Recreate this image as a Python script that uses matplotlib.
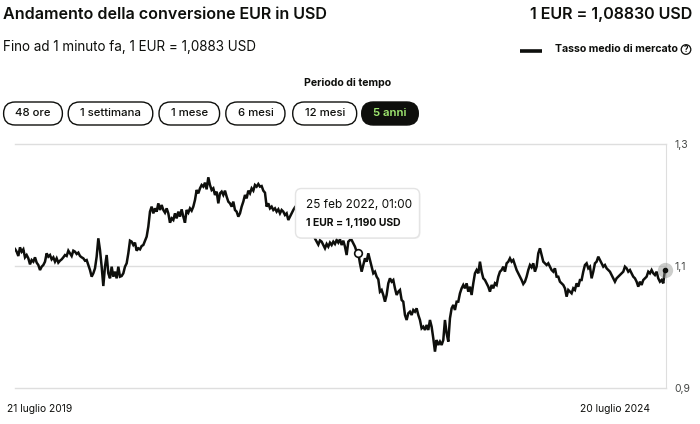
import numpy as np
import pandas as pd
import matplotlib
matplotlib.use("Agg")
import matplotlib.pyplot as plt
from matplotlib.patches import FancyBboxPatch, Circle

plt.rcParams['font.family'] = ['Inter', 'DejaVu Sans']

title = "Andamento della conversione EUR in USD"
current_rate_text = "1 EUR = 1,08830 USD"
subtitle = "Fino ad 1 minuto fa, 1 EUR = 1,0883 USD"
legend_label = "Tasso medio di mercato"
period_title = "Periodo di tempo"
periods = ["48 ore", "1 settimana", "1 mese", "6 mesi", "12 mesi", "5 anni"]
active_period = "5 anni"
start_label = "21 luglio 2019"
end_label = "20 luglio 2024"
y_ticks = [0.9, 1.1, 1.3]
hover_date = "2022-02-25"
hover_value = 1.1190
hover_text = "25 feb 2022, 01:00"

# EUR -> USD (roughly every 5 days)
rates_a = [1.1279, 1.1235, 1.1164, 1.1306, 1.1235, 1.1273, 1.1142, 1.1180, 1.1126, 1.1027,
           1.1098, 1.1071, 1.1142, 1.1055, 1.1016, 1.0934, 1.0989, 1.1016, 1.1071, 1.1208,
           1.1153, 1.1180, 1.1109, 1.1142, 1.1071, 1.1126, 1.1055, 1.1087, 1.1109, 1.1142,
           1.1180, 1.1164, 1.1251, 1.1208, 1.1164, 1.1251, 1.1235, 1.1197, 1.1219, 1.1164,
           1.1142, 1.1126, 1.1087, 1.1098, 1.1016, 1.0934, 1.0825, 1.0880, 1.0962, 1.1153,
           1.1454, 1.1262, 1.0989, 1.0672, 1.0989, 1.1180, 1.0880, 1.0798, 1.0989, 1.0825,
           1.0907, 1.0798, 1.0989, 1.0825, 1.0836, 1.0880]
rates_b = [1.0989, 1.1044, 1.1208, 1.1415, 1.1399, 1.1344, 1.1383, 1.1251, 1.1290, 1.1273,
           1.1328, 1.1344, 1.1415, 1.1481, 1.1645, 1.1891, 1.1973, 1.1863, 1.1945, 1.1891,
           1.2027, 1.1918, 1.2000, 1.1918, 1.1874, 1.1945, 1.1863, 1.1710, 1.1781, 1.1754,
           1.1863, 1.1781, 1.1891, 1.1809, 1.1929, 1.1809, 1.1710, 1.1918, 1.1874, 1.1945,
           1.1907, 1.1973, 1.2082, 1.2246, 1.2191, 1.2273, 1.2328, 1.2301, 1.2366, 1.2257,
           1.2454, 1.2328, 1.2246, 1.2273, 1.2164, 1.2219, 1.2027, 1.2191, 1.2219, 1.2164,
           1.2235, 1.2137, 1.2055, 1.2027, 1.1973, 1.2055, 1.1918, 1.1891, 1.1809]
rates_c = [1.1863, 1.1973, 1.2055, 1.2164, 1.2109, 1.2235, 1.2191, 1.2273, 1.2235, 1.2328,
           1.2301, 1.2344, 1.2301, 1.2311, 1.2235, 1.2202, 1.1973, 1.2027, 1.1945, 1.1973,
           1.1918, 1.1945, 1.1891, 1.1929, 1.1863, 1.1918, 1.1891, 1.1836, 1.1863, 1.1754,
           1.1809, 1.1863, 1.1918, 1.1962,
           1.1940, 1.1880, 1.1830, 1.1780, 1.1700, 1.1650, 1.1600, 1.1630, 1.1560, 1.1520,
           1.1580, 1.1450, 1.1400, 1.1350, 1.1420,
           1.1399, 1.1344, 1.1290, 1.1361, 1.1317, 1.1383, 1.1344, 1.1399, 1.1361, 1.1426,
           1.1383, 1.1437, 1.1344, 1.1415, 1.1317, 1.1180, 1.1399, 1.1426]
rates_d = [1.1426, 1.1372, 1.1317, 1.1235, 1.1208, 1.1044, 1.0907, 1.1016, 1.1126, 1.1071,
           1.1208, 1.1098, 1.0989, 1.0880, 1.0907, 1.0825, 1.0781, 1.0579, 1.0607, 1.0525,
           1.0415, 1.0525, 1.0716, 1.0798, 1.0743, 1.0770, 1.0634, 1.0525, 1.0579, 1.0607,
           1.0443, 1.0415, 1.0197, 1.0115, 1.0224, 1.0251, 1.0197, 1.0279, 1.0251, 1.0306,
           1.0197, 1.0115, 0.9978, 1.0005, 0.9951, 1.0033, 0.9951, 1.0115, 1.0005, 0.9814,
           0.9596, 0.9787, 0.9705, 0.9760, 0.9705, 0.9787, 1.0115, 0.9896, 0.9760, 1.0142,
           1.0306, 1.0361, 1.0279, 1.0415, 1.0415]
rates_e = [1.0552, 1.0634, 1.0689, 1.0634, 1.0716, 1.0579, 1.0661, 1.0525, 1.0716, 1.0880,
           1.0934, 1.0880, 1.1071, 1.0907, 1.0798, 1.0770, 1.0716, 1.0661, 1.0579, 1.0689,
           1.0634, 1.0716, 1.0689, 1.0825, 1.0907, 1.0934, 1.0989, 1.0907, 1.1044, 1.1071,
           1.1126, 1.1071, 1.1098, 1.1016, 1.0934, 1.0880, 1.0825, 1.0770, 1.0705, 1.0743,
           1.0825, 1.0934, 1.1016, 1.0978, 1.1044, 1.0907, 1.0989, 1.1208, 1.1290, 1.1180,
           1.1071, 1.1044, 1.1016, 1.1044, 1.0989, 1.0934, 1.0907, 1.0962, 1.0825, 1.0825,
           1.0743, 1.0716, 1.0689, 1.0634, 1.0497, 1.0607]
rates_f = [1.0579, 1.0552, 1.0634, 1.0607, 1.0716, 1.0661, 1.0770, 1.0770, 1.0907, 1.1016,
           1.1044, 1.0962, 1.0989, 1.0798, 1.0907, 1.1044, 1.1071, 1.1153, 1.1098, 1.1044,
           1.0989, 1.1016, 1.0962, 1.0934, 1.0907, 1.0852, 1.0798, 1.0743, 1.0798, 1.0825,
           1.0852, 1.0880, 1.0907, 1.0989, 1.0962, 1.0907, 1.0934, 1.0880, 1.0825, 1.0798,
           1.0743, 1.0661, 1.0743, 1.0689, 1.0770, 1.0798, 1.0825, 1.0907, 1.0880, 1.0934,
           1.0880, 1.0852, 1.0907, 1.0798, 1.0743, 1.0770, 1.0716, 1.0934]

rates = np.array(rates_a + rates_b + rates_c + rates_d + rates_e + rates_f)
dates = pd.date_range("2019-07-21", "2024-07-20", periods=len(rates))

ink = '#0e0f0c'
grid_col = '#dedede'
W, H = 700, 424


def box(l, t, r, b):
    return [l / W, 1 - b / H, (r - l) / W, (b - t) / H]


fig = plt.figure(figsize=(W / 100, H / 100), dpi=100)

ax = fig.add_axes(box(15, 144, 666, 388))
ax.set_facecolor('none')
ax.plot(dates, rates, color=ink, lw=1.8, solid_joinstyle='miter', zorder=3)
ax.set_xlim(dates[0], dates[-1] + pd.Timedelta(days=3))
ax.set_ylim(0.9, 1.3)
ax.set_yticks(y_ticks)
ax.set_yticklabels([f"{v:.1f}".replace('.', ',') for v in y_ticks])
ax.yaxis.tick_right()
ax.tick_params(axis='y', length=0, pad=6, labelsize=7.5, colors='#454745')
ax.set_xticks([])
ax.grid(axis='y', color=grid_col, lw=1)
for gl in ax.get_ygridlines():
    gl.set_clip_on(False)
for s in ['top', 'left', 'bottom']:
    ax.spines[s].set_visible(False)
ax.spines['right'].set_color(grid_col)

# hovered point: the series point near the hover date closest to the shown value
hd = pd.Timestamp(hover_date)
near = np.where(np.abs((dates - hd).days) <= 15)[0]
idx = near[np.argmin(np.abs(rates[near] - hover_value))]
ax.plot(dates[idx], rates[idx], 'o', ms=5.5, mfc='white', mec=ink, mew=1.2, zorder=5)

# latest point
ax.plot(dates[-1], rates[-1], 'o', ms=11, color='#8f918d', alpha=0.45, mec='none', clip_on=False, zorder=5)
ax.plot(dates[-1], rates[-1], 'o', ms=3, color=ink, clip_on=False, zorder=6)

# overlay in pixel units for the page elements
ov = fig.add_axes([0, 0, 1, 1])
ov.set_xlim(0, W)
ov.set_ylim(H, 0)
ov.axis('off')

ov.text(3, 14.5, title, fontsize=11.6, fontweight='semibold', va='center', ha='left', color=ink)
ov.text(692, 14.5, current_rate_text, fontsize=11.6, fontweight='semibold', va='center', ha='right', color=ink)
ov.text(3, 47.5, subtitle, fontsize=9.7, va='center', ha='left', color=ink)

ov.plot([520, 542], [50.5, 50.5], lw=2.6, color=ink, solid_capstyle='butt')
ov.text(555, 49.5, legend_label, fontsize=7.6, fontweight='bold', va='center', ha='left', color=ink)
ov.add_patch(Circle((686, 49.5), 4.8, fill=False, ec=ink, lw=0.9))
ov.text(686, 49.8, "?", fontsize=5.8, fontweight='bold', va='center', ha='center', color=ink)

ov.text(348, 82.5, period_title, fontsize=7.6, fontweight='bold', va='center', ha='center', color=ink)

pill_spans = [(3.6, 62.4), (68.2, 152.8), (159, 219.6), (225.8, 285), (292.7, 356.7), (361.7, 418.3)]
for (l, r), lab in zip(pill_spans, periods):
    active = lab == active_period
    ov.add_patch(FancyBboxPatch((l, 102), r - l, 23, boxstyle="round,pad=0,rounding_size=11.5",
                                fc=ink if active else 'white', ec=ink, lw=1.0))
    ov.text((l + r) / 2, 113.5, lab, fontsize=8.2, fontweight='semibold' if active else 'medium',
            va='center', ha='center', color='#9fe870' if active else ink)

# tooltip
ov.add_patch(FancyBboxPatch((296.5, 189.5), 124, 49.5, boxstyle="round,pad=0,rounding_size=6",
                            fc='#000000', ec='none', alpha=0.06))
ov.add_patch(FancyBboxPatch((295.5, 188.5), 124, 49.5, boxstyle="round,pad=0,rounding_size=6",
                            fc='white', ec='#e4e4e4', lw=1.0))
ov.text(306, 204.5, hover_text, fontsize=8.5, va='center', ha='left', color=ink)
ov.text(306, 222.5, "1 EUR = " + f"{hover_value:.4f}".replace('.', ',') + " USD", fontsize=7.5,
        fontweight='bold', va='center', ha='left', color=ink)

ov.text(7, 409, start_label, fontsize=7.4, va='center', ha='left', color=ink)
ov.text(650, 409, end_label, fontsize=7.4, va='center', ha='right', color=ink)

fig.savefig('out.png', dpi=100, facecolor='white')
